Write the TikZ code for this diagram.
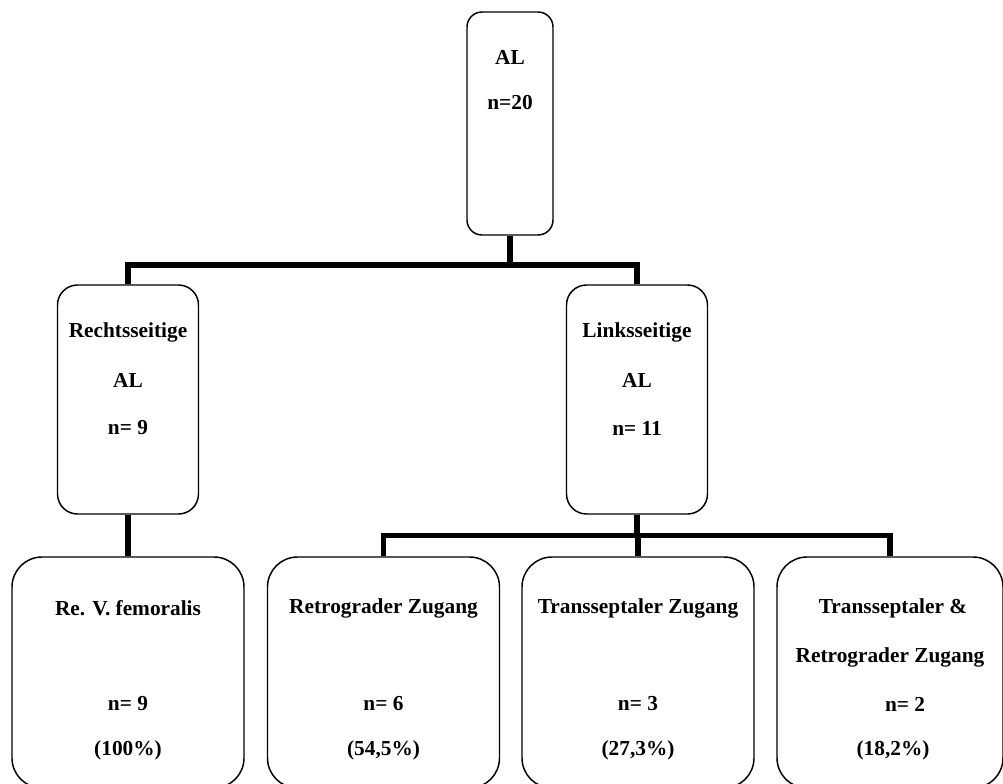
\documentclass[tikz,border=0pt]{standalone}
\usepackage{fontspec}
\setmainfont{Liberation Serif}
\usepackage{tikz}
\usetikzlibrary{positioning}

\tikzset{
  box/.style={draw, line width=1.1pt, rounded corners=#1, inner sep=0pt},
  conn/.style={line width=4.1pt},
  lbl/.style={font=\fontsize{16}{19}\selectfont\bfseries, inner sep=0pt}
}

\begin{document}
\begin{tikzpicture}[x=0.75pt,y=-0.75pt]
	\useasboundingbox (0,0) rectangle (1003,783);
	\clip (0,0) rectangle (1003,783);

	% boxes
	\node[box=11.25pt, minimum width=64.5pt, minimum height=167.25pt] (top) at (510,123.5) {};
	\node[box=15pt, minimum width=105.75pt, minimum height=171.75pt] (rechts) at (128,399.5) {};
	\node[box=15pt, minimum width=105.75pt, minimum height=171.75pt] (links) at (637,399.5) {};
	\node[box=22.5pt, minimum width=174pt, minimum height=173.25pt] (femo) at (128,672.5) {};
	\node[box=22.5pt, minimum width=174pt, minimum height=173.25pt] (retro) at (383.5,672.5) {};
	\node[box=22.5pt, minimum width=174pt, minimum height=173.25pt] (trans) at (638,672.5) {};
	\node[box=22.5pt, minimum width=169.5pt, minimum height=173.25pt] (beide) at (890,672.5) {};

	\coordinate (bar1) at (510,265);
	\coordinate (bar2) at (637,535.5);

	% connectors
	\draw[conn] (top.south) -- (top.south |- bar1);
	\draw[conn] (rechts.north) |- (links.north |- bar1) -- (links.north);
	\draw[conn] (rechts.south) -- (femo.north);
	\draw[conn] (links.south) -- (links.south |- bar2);
	\draw[conn] (retro.north) |- (beide.north |- bar2) -- (beide.north);
	\draw[conn] (trans.north |- bar2) -- (trans.north);

	% texts
	\node[lbl] (topA) at (510,57) {AL};
	\node[lbl] (topB) at (510,103) {n=20};

	\node[lbl] (rechtsA) at (128,332) {Rechtsseitige};
	\node[lbl] (rechtsB) at (128,380) {AL};
	\node[lbl] (rechtsC) at (128,428) {n= 9};

	\node[lbl] (linksA) at (637,332) {Linksseitige};
	\node[lbl] (linksB) at (637,380) {AL};
	\node[lbl] (linksC) at (637,428) {n= 11};

	\node[lbl] (femoA) at (128,608) {Re. V. femoralis};
	\node[lbl] (femoB) at (128,704) {n= 9};
	\node[lbl] (femoC) at (128,750) {(100\%)};

	\node[lbl] (retroA) at (383.5,608) {Retrograder Zugang};
	\node[lbl] (retroB) at (383.5,704) {n= 6};
	\node[lbl] (retroC) at (383.5,750) {(54,5\%)};

	\node[lbl] (transA) at (638,608) {Transseptaler Zugang};
	\node[lbl] (transB) at (638,704) {n= 3};
	\node[lbl] (transC) at (638,750) {(27,3\%)};

	\node[lbl] (beideA) at (893,608) {Transseptaler \&};
	\node[lbl] (beideB) at (890,657) {Retrograder Zugang};
	\node[lbl] (beideC) at (905,704) {n= 2};
	\node[lbl] (beideD) at (893,750) {(18,2\%)};
\end{tikzpicture}
\end{document}
